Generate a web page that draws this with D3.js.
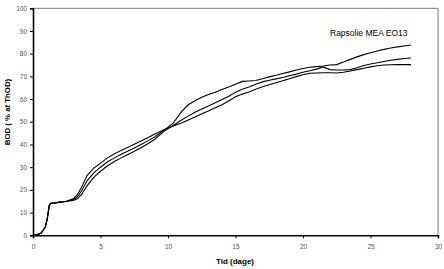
<!DOCTYPE html>
<html lang="en">
<head>
<meta charset="UTF-8">
<title>BOD</title>
<script src="https://cdnjs.cloudflare.com/ajax/libs/d3/7.8.5/d3.min.js"></script>
<style>
  body { margin: 0; background: #fff; }
  svg { display: block; font-family: "Liberation Sans", Arial, sans-serif; }
</style>
</head>
<body>
<svg id="graph" width="444" height="269"></svg>
<script>
// days
var days = [0, 0.3, 0.6, 0.9, 1.05, 1.2, 1.3, 1.6, 2, 2.5, 3, 3.3, 3.6, 4, 4.5, 5, 5.5, 6, 6.5, 7, 7.5, 8, 8.5, 9, 9.7,
  10.4, 11, 11.5, 12, 12.5, 13, 13.5, 14, 14.5, 15, 15.5, 16, 16.5, 17, 17.5, 18, 18.5, 19, 19.5, 20, 20.5,
  21, 21.5, 22, 22.5, 23, 23.5, 24, 24.5, 25, 25.5, 26, 26.5, 27, 27.5, 28];

var bodA = [0, 0.2, 1, 3.5, 7, 13, 14, 14.3, 14.6, 15, 15.8, 17, 19.5, 24, 27.5, 30, 32.3, 34, 35.6, 37, 38.5, 40, 41.6, 43.3, 46.2,
  49.5, 54.5, 57.5, 59.3, 60.8, 62, 63, 64.2, 65.3, 66.5, 67.8, 68, 68.2, 69, 69.8, 70.5, 71.3, 72, 72.8, 73.5, 74,
  74.3, 74.6, 75, 75.2, 76.3, 77.5, 78.6, 79.6, 80.4, 81.2, 81.9, 82.5, 83, 83.4, 83.8];

var bodB = [0, 0.2, 1, 3.5, 7, 13, 14, 14.3, 14.6, 15, 15.4, 16.2, 18, 21.8, 25.5, 28.2, 30.5, 32.4, 34, 35.5, 37, 38.6, 40.3, 42.2, 45.8,
  48.5, 50.8, 52.5, 54.2, 55.6, 57, 58.4, 59.8, 61.3, 63, 64.3, 65.3, 66.5, 67.6, 68.3, 68.9, 69.5, 70.3, 71, 71.8, 72.5,
  73.2, 74.2, 73, 72.8, 72.8, 73, 73.8, 74.8, 75.5, 76, 76.6, 77.1, 77.5, 77.9, 78.1];

var bodC = [0, 0.2, 1, 3.5, 7, 13, 14, 14.3, 14.6, 15, 16.2, 18, 21.2, 26.3, 29.6, 31.8, 34, 35.8, 37.3, 38.7, 40.1, 41.5, 43, 44.5, 46.5,
  48.2, 49.5, 50.8, 52.1, 53.5, 54.8, 56.2, 57.5, 59.2, 61, 62.2, 63.1, 64.3, 65.4, 66.3, 67.2, 68.1, 69, 69.9, 70.7, 71.4,
  71.5, 71.6, 71.6, 71.5, 71.8, 72.4, 73, 73.6, 74.2, 74.7, 75, 75.1, 75.2, 75.2, 75.2];

var xTicks = [0, 5, 10, 15, 20, 25, 30];
var yTicks = [0, 10, 20, 30, 40, 50, 60, 70, 80, 90, 100];
var xTitle = "Tid (dage)";
var yTitle = "BOD ( % af ThOD)";
var legendText = "Rapsolie MEA EO13";

var svg = d3.select("#graph");

var xScale = d3.scaleLinear().domain([0, 30]).range([33, 438]);
var yScale = d3.scaleLinear().domain([0, 100]).range([235.3, 8.3]);

// top and right frame
svg.append("line")
  .attr("x1", xScale(0)).attr("x2", xScale(30))
  .attr("y1", yScale(100)).attr("y2", yScale(100))
  .attr("stroke", "#777").attr("stroke-width", 1);
svg.append("line")
  .attr("x1", xScale(30)).attr("x2", xScale(30))
  .attr("y1", yScale(100)).attr("y2", yScale(0))
  .attr("stroke", "#777").attr("stroke-width", 1);

var xAxis = d3.axisBottom(xScale).tickValues(xTicks).tickSize(3).tickPadding(6);
var yAxis = d3.axisLeft(yScale).tickValues(yTicks).tickSize(3).tickPadding(3);

var gx = svg.append("g")
  .attr("transform", "translate(0," + yScale(0) + ")")
  .call(xAxis);
var gy = svg.append("g")
  .attr("transform", "translate(" + xScale(0) + ",0)")
  .call(yAxis);

[gx, gy].forEach(function (g) {
  g.select(".domain").attr("stroke", "#000").attr("stroke-width", 1.6);
  g.selectAll(".tick line").attr("stroke", "#000").attr("stroke-width", 1);
  g.selectAll(".tick text")
    .attr("fill", "#555")
    .style("font-size", "6.5px")
    .style("font-family", "Liberation Sans, Arial, sans-serif");
});

// series
var line = d3.line()
  .x(function (d, i) { return xScale(days[i]); })
  .y(function (d) { return yScale(d); });

[bodA, bodB, bodC].forEach(function (s) {
  svg.append("path")
    .attr("d", line(s))
    .attr("fill", "none")
    .attr("stroke", "#000")
    .attr("stroke-width", 1.1);
});

// titles
svg.append("text")
  .attr("x", 235).attr("y", 264)
  .attr("text-anchor", "middle")
  .style("font-size", "8px").style("font-weight", "bold")
  .text(xTitle);

svg.append("text")
  .attr("transform", "translate(10,112) rotate(-90)")
  .attr("text-anchor", "middle")
  .style("font-size", "7.8px").style("font-weight", "bold")
  .text(yTitle);

svg.append("text")
  .attr("x", 330).attr("y", 36)
  .style("font-size", "8.5px")
  .text(legendText);
</script>
</body>
</html>
